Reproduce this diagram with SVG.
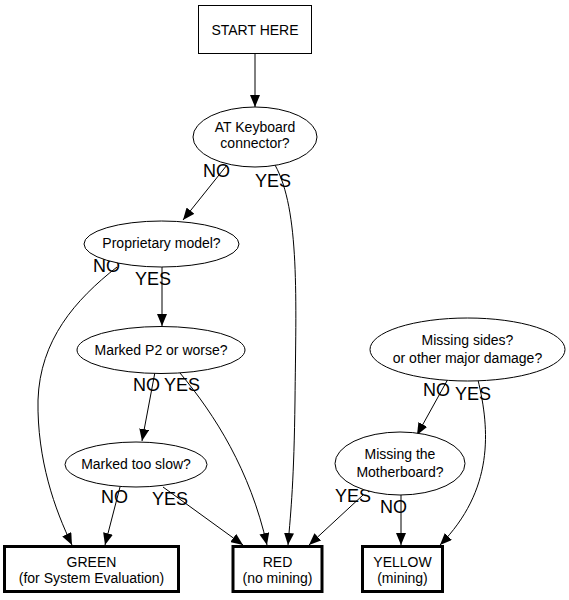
<svg xmlns="http://www.w3.org/2000/svg" width="569" height="600" viewBox="0 0 569 600">
<style>
.n{fill:#fff;stroke:#000;stroke-width:1}
.t{fill:#fff;stroke:#000;stroke-width:3}
.tx{font-family:"Liberation Sans",Arial,sans-serif;font-size:14px;text-anchor:middle;fill:#000}
.lb{font-family:"Liberation Sans",Arial,sans-serif;font-size:18px;fill:#000}
.e{fill:none;stroke:#000;stroke-width:1;marker-end:url(#a)}
</style>
<defs>
<marker id="a" markerUnits="userSpaceOnUse" markerWidth="12" markerHeight="10" refX="12" refY="5" orient="auto">
<path d="M0,0 L12,5 L0,10 z" fill="#000"/>
</marker>
</defs>
<rect width="569" height="600" fill="#fff"/>
<g id="edges">
<path class="e" d="M255,53 L255,107"/>
<path class="e" d="M227,165 L183,220"/>
<path class="e" d="M275,165 C300,210 296,300 295,400 C294,480 291,510 288,545"/>
<path class="e" d="M117,267 C75,300 40,340 38,400 C37,460 55,510 72,545"/>
<path class="e" d="M162,267 L162,326"/>
<path class="e" d="M155,372 L142,441"/>
<path class="e" d="M180,373 C215,415 250,470 267,545"/>
<path class="e" d="M120,487 L105,545"/>
<path class="e" d="M163,487 L243,545"/>
<path class="e" d="M448,379 L417,435"/>
<path class="e" d="M478,380 C490,430 494,490 440,545"/>
<path class="e" d="M401,495 L401,545"/>
<path class="e" d="M363,495 L309,545"/>
<text class="lb" x="203" y="177">NO</text>
<text class="lb" x="255" y="187">YES</text>
<text class="lb" x="93" y="272">NO</text>
<text class="lb" x="135" y="285">YES</text>
<text class="lb" x="133" y="391">NO</text>
<text class="lb" x="164" y="391">YES</text>
<text class="lb" x="101" y="503">NO</text>
<text class="lb" x="152" y="505">YES</text>
<text class="lb" x="423" y="396">NO</text>
<text class="lb" x="455" y="400">YES</text>
<text class="lb" x="335" y="502">YES</text>
<text class="lb" x="380" y="513">NO</text>
</g>
<g id="start"><rect class="n" x="198.5" y="5.5" width="113" height="48"/><text class="tx" x="255" y="35">START HERE</text></g>
<g id="atkb"><ellipse class="n" cx="255" cy="137" rx="62" ry="30"/><text class="tx" x="255" y="132">AT Keyboard</text><text class="tx" x="255" y="148">connector?</text></g>
<g id="prop"><ellipse class="n" cx="161.5" cy="244" rx="77.5" ry="23"/><text class="tx" x="161.5" y="248">Proprietary model?</text></g>
<g id="p2"><ellipse class="n" cx="161" cy="350" rx="84" ry="23.5"/><text class="tx" x="161" y="355">Marked P2 or worse?</text></g>
<g id="slow"><ellipse class="n" cx="136" cy="464.5" rx="71" ry="22.5"/><text class="tx" x="136" y="469">Marked too slow?</text></g>
<g id="sides"><ellipse class="n" cx="467.5" cy="349.5" rx="97.5" ry="31.5"/><text class="tx" x="467.5" y="345">Missing sides?</text><text class="tx" x="467.5" y="363">or other major damage?</text></g>
<g id="mobo"><ellipse class="n" cx="400" cy="463.5" rx="65" ry="31.5"/><text class="tx" x="400" y="459">Missing the</text><text class="tx" x="400" y="477">Motherboard?</text></g>
<g id="green"><rect class="t" x="4.5" y="546.5" width="174" height="45"/><text class="tx" x="91.5" y="567">GREEN</text><text class="tx" x="91.5" y="583">(for System Evaluation)</text></g>
<g id="red"><rect class="t" x="233" y="546.5" width="89" height="45"/><text class="tx" x="277.5" y="567">RED</text><text class="tx" x="277.5" y="583">(no mining)</text></g>
<g id="yellow"><rect class="t" x="362.5" y="546.5" width="80" height="45"/><text class="tx" x="402.5" y="567">YELLOW</text><text class="tx" x="402.5" y="583">(mining)</text></g>
</svg>
